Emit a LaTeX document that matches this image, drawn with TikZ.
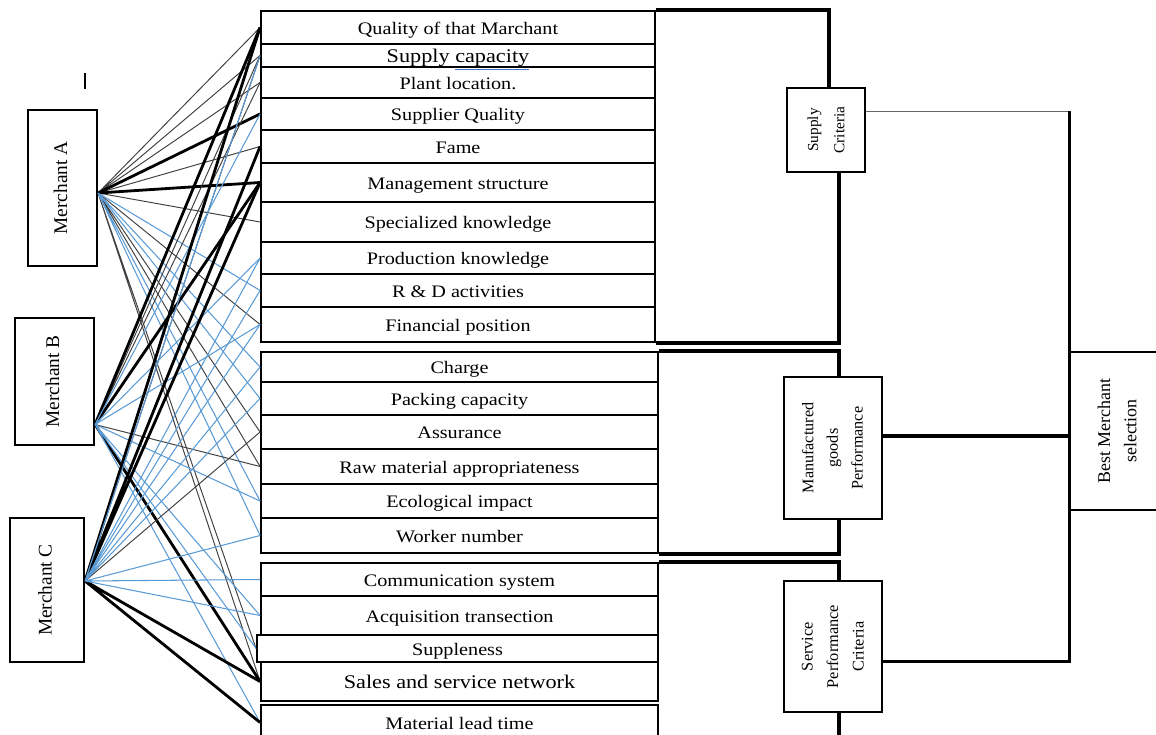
\documentclass[tikz,border=0pt]{standalone}
\usepackage{fontspec}
\setmainfont{Liberation Serif}[FakeStretch=1.15]
\newfontfamily\rotfont{Liberation Serif}
\usepackage{xcolor}
\definecolor{mblue}{RGB}{91,155,213}
\definecolor{ulblue}{RGB}{68,114,196}
\usetikzlibrary{calc}

\newcommand{\vtext}[1]{\rotatebox{90}{\begin{tabular}{@{}c@{}}#1\end{tabular}}}
\newcommand{\blueul}[1]{{\color{ulblue}\underline{\color{black}#1}}}

\tikzset{
  crit/.style={draw, line width=1.1pt, inner sep=0pt, text height=1.7ex, text depth=0pt,
    font=\fontsize{10}{12}\selectfont},
  merch/.style={draw, line width=1.2pt, inner sep=0pt, font=\rotfont\fontsize{11}{13}\selectfont},
  group/.style={draw, line width=1.1pt, inner sep=0pt},
  lnthin/.style={black!75, line width=0.55pt},
  lnthick/.style={black, line width=1.6pt},
  lnkblue/.style={mblue, line width=0.6pt},
  bracket/.style={line width=1.8pt},
}

\begin{document}
\begin{tikzpicture}[x=0.02cm, y=-0.02cm]
\useasboundingbox (0,0) rectangle (1156,734);

% === Merchants ===
\node[merch, minimum width=1.38cm, minimum height=3.12cm] (ma) at (62.5,188) {\vtext{Merchant A}};
\node[merch, minimum width=1.58cm, minimum height=2.54cm] (mb) at (54.5,381.5) {\vtext{Merchant B}};
\node[merch, minimum width=1.48cm, minimum height=2.88cm] (mc) at (47,590) {\vtext{Merchant C}};
\coordinate (pA) at ([yshift=-0.1cm]ma.east);
\coordinate (pB) at ([yshift=-0.86cm]mb.east);
\coordinate (pC) at ([yshift=0.18cm]mc.east);
\draw[line width=0.6pt] (85,73) -- (85,89);

% === Supply criteria list ===
\node[crit, minimum width=7.88cm, minimum height=0.66cm] (c1) at (458,27.5) {Quality of that Marchant};
\node[crit, minimum width=7.88cm, minimum height=0.46cm, font=\fontsize{11}{12}\selectfont] (c2) at (458,55.5) {Supply \blueul{capacity}};
\node[crit, minimum width=7.88cm, minimum height=0.62cm] (c3) at (458,82.5) {Plant location.};
\node[crit, minimum width=7.88cm, minimum height=0.64cm] (c4) at (458,114) {Supplier Quality};
\node[crit, minimum width=7.88cm, minimum height=0.66cm] (c5) at (458,146.5) {Fame};
\node[crit, minimum width=7.88cm, minimum height=0.78cm] (c6) at (458,182.5) {Management structure};
\node[crit, minimum width=7.88cm, minimum height=0.80cm] (c7) at (458,222) {Specialized knowledge};
\node[crit, minimum width=7.88cm, minimum height=0.64cm] (c8) at (458,258) {Production knowledge};
\node[crit, minimum width=7.88cm, minimum height=0.66cm] (c9) at (458,290.5) {R \& D activities};
\node[crit, minimum width=7.88cm, minimum height=0.70cm] (c10) at (458,324.5) {Financial position};

% === Manufactured goods list ===
\node[crit, minimum width=7.94cm, minimum height=0.60cm] (c11) at (459.5,367) {Charge};
\node[crit, minimum width=7.94cm, minimum height=0.66cm] (c12) at (459.5,398.5) {Packing capacity};
\node[crit, minimum width=7.94cm, minimum height=0.68cm] (c13) at (459.5,432) {Assurance};
\node[crit, minimum width=7.94cm, minimum height=0.70cm] (c14) at (459.5,466.5) {Raw material appropriateness};
\node[crit, minimum width=7.94cm, minimum height=0.68cm] (c15) at (459.5,501) {Ecological impact};
\node[crit, minimum width=7.94cm, minimum height=0.70cm] (c16) at (459.5,535.5) {Worker number};

% === Service list ===
\node[crit, minimum width=7.94cm, minimum height=0.66cm] (c17) at (459.5,579.5) {Communication system};
\node[crit, minimum width=7.94cm, minimum height=0.78cm] (c18) at (459.5,615.5) {Acquisition transection};
\node[crit, minimum width=8.02cm, minimum height=0.54cm] (c19) at (457.5,648.5) {Suppleness};
\node[crit, minimum width=7.94cm, minimum height=0.78cm, font=\fontsize{11}{12}\selectfont] (c20) at (459.5,681.5) {Sales and service network};
\node[crit, minimum width=7.94cm, minimum height=0.70cm] (c21) at (459.5,722.5) {Material lead time};

% === Group boxes ===
\node[group, minimum width=1.56cm, minimum height=1.68cm, font=\rotfont\fontsize{8.7}{15}\selectfont] (sup) at (826,130) {\vtext{Supply\\Criteria}};
\node[group, minimum width=1.96cm, minimum height=2.84cm, font=\rotfont\fontsize{9.2}{14}\selectfont] (mfg) at (833,448) {\vtext{Manufactured\\goods\\Performance}};
\node[group, minimum width=1.96cm, minimum height=2.62cm, font=\rotfont\fontsize{9.3}{14.5}\selectfont] (svc) at (833,646.5) {\vtext{Service\\Performance\\Criteria}};
\node[group, minimum width=1.9cm, minimum height=3.16cm, font=\rotfont\fontsize{10.2}{15}\selectfont] (best) at (1118,431) {\vtext{Best Merchant\\selection}};

% brackets
\draw[bracket] (c1.north east) -| ([xshift=0.06cm]sup.north);
\draw[bracket] ([xshift=0.26cm]sup.south) |- (c10.south east);
\draw[bracket] (c11.north east) -| ([xshift=0.12cm]mfg.north);
\draw[bracket] ([xshift=0.12cm]mfg.south) |- (c16.south east);
\draw[bracket] (c17.north east) -| ([xshift=0.12cm]svc.north);
\draw[bracket] ([xshift=0.12cm]svc.south) -- ++(0,40);

% to best merchant
\coordinate (kink) at ([yshift=0.38cm]sup.east -| best.west);
\draw[line width=0.5pt, black!60] ([yshift=0.38cm]sup.east) -- (kink);
\draw[bracket] (kink) -- (best.north west) -- (best.south west) |- ([yshift=-0.3cm]svc.east);
\draw[bracket] ([yshift=0.24cm]mfg.east) -- ([yshift=0.24cm]mfg.east -| best.west);

% === Merchant A links ===
\draw[lnthin] (pA) -- (c1.west) (pA) -- (c2.west) (pA) -- (c3.west) (pA) -- (c5.west)
  (pA) -- (c7.west) (pA) -- (c10.west) (pA) -- (c13.west) (pA) -- (c14.west)
  (pA) -- (c19.west) (pA) -- (c20.west);
\draw[lnthick] (pA) -- (c4.west) (pA) -- (c6.west);
\draw[lnkblue] (pA) -- (c9.west) (pA) -- (c11.west) (pA) -- (c12.west) (pA) -- (c15.west)
  (pA) -- (c16.west);

% === Merchant B links ===
\draw[lnthin] (pB) -- (c2.west) (pB) -- (c3.west) (pB) -- (c14.west);
\draw[lnthick] (pB) -- (c1.west) (pB) -- (c6.west) (pB) -- (c20.west);
\draw[lnkblue] (pB) -- (c4.west) (pB) -- (c8.west) (pB) -- (c10.west) (pB) -- (c15.west)
  (pB) -- (c18.west) (pB) -- (c19.west) (pB) -- (c21.west);

% === Merchant C links ===
\draw[lnthin] (pC) -- (c1.west) (pC) -- (c2.west) (pC) -- (c13.west);
\draw[lnthick] (pC) -- (c1.west) (pC) -- (c5.west) (pC) -- (c6.west) (pC) -- (c20.west)
  (pC) -- (c21.west);
\draw[lnkblue] (pC) -- (c2.west) (pC) -- (c8.west) (pC) -- (c9.west) (pC) -- (c10.west)
  (pC) -- (c11.west) (pC) -- (c12.west) (pC) -- (c16.west) (pC) -- (c17.west)
  (pC) -- (c18.west);

\end{tikzpicture}
\end{document}
